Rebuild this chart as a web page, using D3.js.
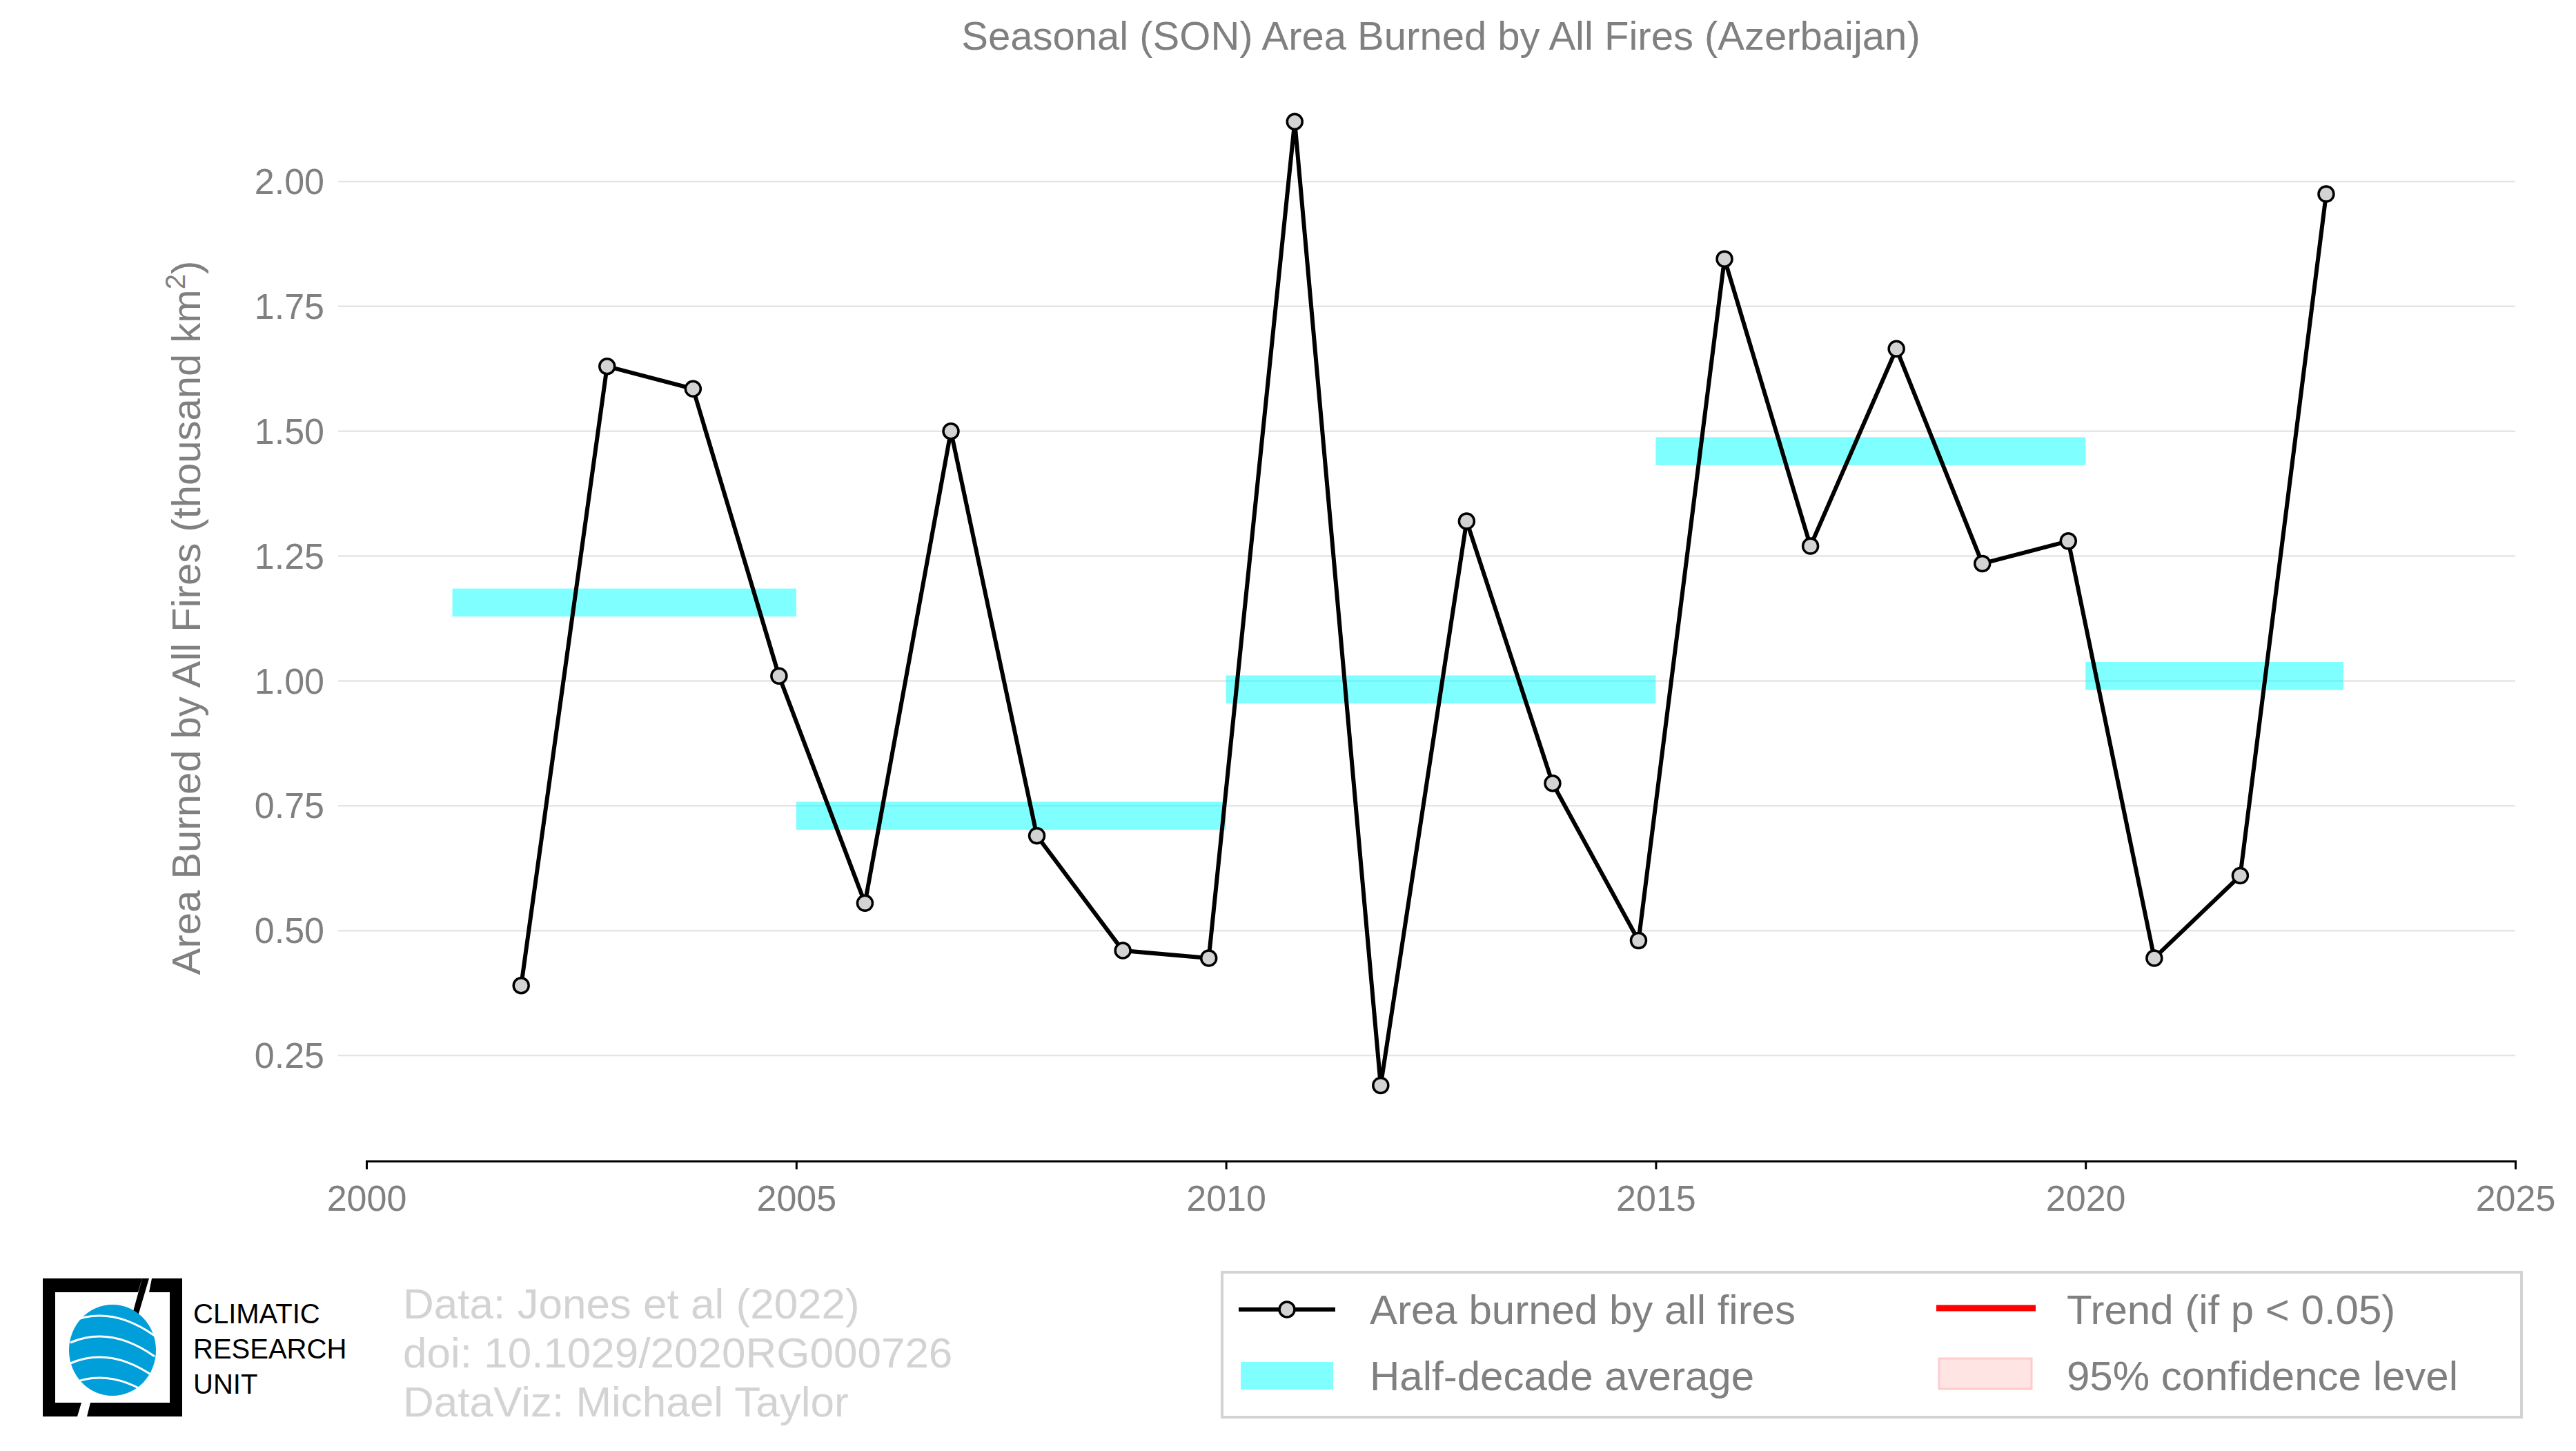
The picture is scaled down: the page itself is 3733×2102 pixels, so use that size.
<!DOCTYPE html>
<html><head><meta charset="utf-8">
<script src="https://cdn.jsdelivr.net/npm/d3@7"></script>
<style>body{margin:0;background:#fff}text{font-family:"Liberation Sans",Arial,sans-serif}</style>
</head><body>
<svg width="3733" height="2102"></svg>
<script>
let years = [2001,2002,2003,2004,2005,2006,2007,2008,2009,2010,2011,2012,2013,2014,2015,2016,2017,2018,2019,2020,2021,2022];
let area = [0.39,1.63,1.585,1.01,0.555,1.50,0.69,0.46,0.445,2.12,0.19,1.32,0.795,0.48,1.845,1.27,1.665,1.235,1.28,0.445,0.61,1.975];
let halfStart = [2001,2005,2010,2015,2020];
let halfEnd = [2005,2010,2015,2020,2023];
let halfMean = [1.157,0.73,0.983,1.46,1.01];
let yTicks = [0.25,0.5,0.75,1.0,1.25,1.5,1.75,2.0];
let xTicks = [2000,2005,2010,2015,2020,2025];

let svg = d3.select('svg');
let grey = "#808080";
let x = d3.scaleLinear().domain([2000,2025]).range([531,3645]);
let y = d3.scaleLinear().domain([0.25,2.0]).range([1529,263]);

// grid
svg.append("g").selectAll("line").data(yTicks).enter().append("line")
  .attr("x1", 490).attr("x2", 3645)
  .attr("y1", d => y(d)).attr("y2", d => y(d))
  .attr("stroke", "#e5e5e5").attr("stroke-width", 2.5);

// y tick labels
svg.append("g").selectAll("text").data(yTicks).enter().append("text")
  .attr("x", 470).attr("y", d => y(d)).attr("dy", "0.35em")
  .attr("text-anchor", "end").attr("font-size", 52).attr("fill", grey)
  .text(d => d.toFixed(2));

// x axis
let xAxis = svg.append("g").attr("transform", "translate(0,1682)")
  .call(d3.axisBottom(x).tickValues(xTicks).tickFormat(d3.format("d")).tickSize(12));
xAxis.select(".domain").attr("stroke", "#000").attr("stroke-width", 3);
xAxis.selectAll(".tick line").attr("stroke", "#000").attr("stroke-width", 3);
xAxis.selectAll("text").attr("font-size", 52).attr("fill", grey).attr("dy", "1.1em")
  .style("font-family", '"Liberation Sans",Arial,sans-serif');

// half-decade bars
svg.append("g").selectAll("rect").data(halfMean).enter().append("rect")
  .attr("x", (d,i) => x(halfStart[i])).attr("width", (d,i) => x(halfEnd[i]) - x(halfStart[i]))
  .attr("y", d => y(d + 0.028)).attr("height", d => y(d - 0.028) - y(d + 0.028))
  .attr("fill", "#00ffff").attr("opacity", 0.5);

// line + points
let pts = years.map((d,i) => [d + 0.8, area[i]]);
svg.append("path").datum(pts)
  .attr("fill", "none").attr("stroke", "#000").attr("stroke-width", 6)
  .attr("d", d3.line().x(d => x(d[0])).y(d => y(d[1])));
svg.append("g").selectAll("circle").data(pts).enter().append("circle")
  .attr("cx", d => x(d[0])).attr("cy", d => y(d[1])).attr("r", 11)
  .attr("fill", "#d3d3d3").attr("stroke", "#000").attr("stroke-width", 3.5);

// title
svg.append("text").attr("x", 2088).attr("y", 72).attr("text-anchor", "middle")
  .attr("font-size", 58).attr("fill", grey)
  .text("Seasonal (SON) Area Burned by All Fires (Azerbaijan)");

// y label
let yl = svg.append("text").attr("transform", "translate(290,895) rotate(-90)")
  .attr("text-anchor", "middle").attr("font-size", 58).attr("fill", grey);
yl.append("tspan").text("Area Burned by All Fires (thousand km");
yl.append("tspan").attr("font-size", 40).attr("dy", -22).text("2");
yl.append("tspan").attr("dy", 22).text(")");

// legend
let lg = svg.append("g");
lg.append("rect").attr("x", 1771).attr("y", 1843).attr("width", 1883).attr("height", 210)
  .attr("fill", "#fff").attr("stroke", "#d3d3d3").attr("stroke-width", 4);
lg.append("line").attr("x1", 1795).attr("x2", 1935).attr("y1", 1897).attr("y2", 1897)
  .attr("stroke", "#000").attr("stroke-width", 6);
lg.append("circle").attr("cx", 1865).attr("cy", 1897).attr("r", 11)
  .attr("fill", "#d3d3d3").attr("stroke", "#000").attr("stroke-width", 3.5);
lg.append("rect").attr("x", 1798).attr("y", 1973).attr("width", 134).attr("height", 40)
  .attr("fill", "#00ffff").attr("opacity", 0.5);
lg.append("line").attr("x1", 2806).attr("x2", 2950).attr("y1", 1895).attr("y2", 1895)
  .attr("stroke", "#ff0000").attr("stroke-width", 9);
lg.append("rect").attr("x", 2810).attr("y", 1968).attr("width", 134).attr("height", 44)
  .attr("fill", "#ffe4e4").attr("stroke", "#ffcccc").attr("stroke-width", 3);
let lt = [["Area burned by all fires",1985,1897],["Half-decade average",1985,1993],
          ["Trend (if p < 0.05)",2995,1897],["95% confidence level",2995,1993]];
lg.selectAll("text").data(lt).enter().append("text")
  .attr("x", d => d[1]).attr("y", d => d[2]).attr("dy", "0.35em")
  .attr("font-size", 60).attr("fill", grey).text(d => d[0]);

// credits
let cr = ["Data: Jones et al (2022)","doi: 10.1029/2020RG000726","DataViz: Michael Taylor"];
svg.append("g").selectAll("text").data(cr).enter().append("text")
  .attr("x", 584).attr("y", (d,i) => 1910 + i*71)
  .attr("font-size", 62).attr("fill", "#d3d3d3").text(d => d);

// CRU logo
let logo = svg.append("g");
logo.append("path").attr("d", "M62,1852 L206,1852 L200,1872 L80,1872 L80,2032 L118,2032 L112,2052 L62,2052 Z").attr("fill", "#000");
logo.append("path").attr("d", "M220,1852 L264,1852 L264,2052 L126,2052 L131,2032 L246,2032 L246,1872 L216,1872 Z").attr("fill", "#000");
logo.append("path").attr("d", "M206,1852 L216,1852 L190,1940 L182,1940 Z").attr("fill", "#000");
logo.append("ellipse").attr("cx", 163).attr("cy", 1956).attr("rx", 63).attr("ry", 66).attr("fill", "#009fda");
[1915,1945,1975,2005].forEach(v => logo.append("path")
  .attr("d", `M102,${v} Q160,${v-25} 224,${v+20}`).attr("fill", "none").attr("stroke", "#fff").attr("stroke-width", 3));
let lt2 = ["CLIMATIC","RESEARCH","UNIT"];
logo.selectAll("text").data(lt2).enter().append("text")
  .attr("x", 280).attr("y", (d,i) => 1917 + i*51)
  .attr("font-size", 40).attr("fill", "#000").text(d => d);
</script>
</body></html>
